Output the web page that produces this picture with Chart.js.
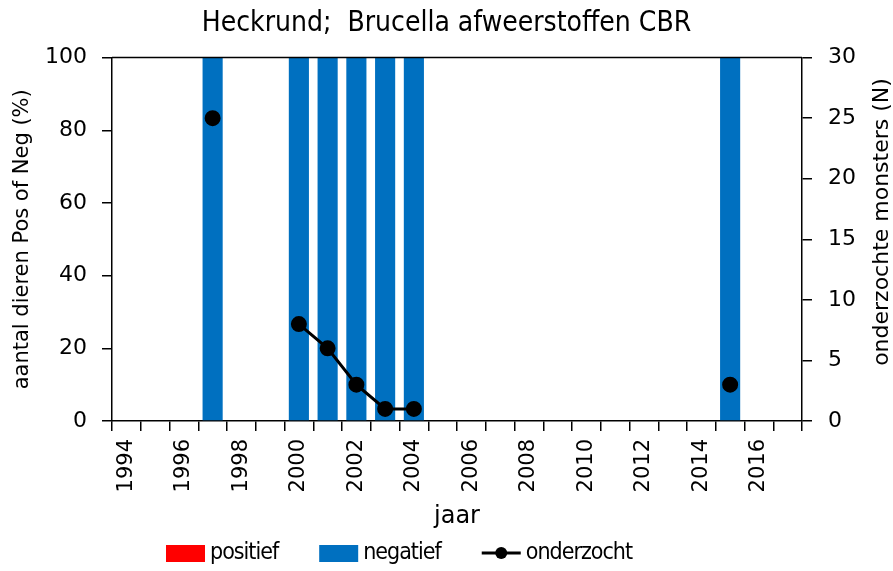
<!DOCTYPE html>
<html>
<head>
<meta charset="utf-8">
<title>Heckrund; Brucella afweerstoffen CBR</title>
<script src="https://cdn.jsdelivr.net/npm/chart.js@4.4.1/dist/chart.umd.min.js"></script>
<style>
  html, body { margin: 0; padding: 0; background: #fff; }
  canvas { display: block; }
</style>
</head>
<body>
<canvas id="chart" width="893" height="571"></canvas>
<script>
// --- Data ---
const YEARS = [1994, 1995, 1996, 1997, 1998, 1999, 2000, 2001, 2002, 2003, 2004, 2005,
  2006, 2007, 2008, 2009, 2010, 2011, 2012, 2013, 2014, 2015, 2016, 2017];
const TICK_LABELS = ['1994', '', '1996', '', '1998', '', '2000', '', '2002', '', '2004', '',
  '2006', '', '2008', '', '2010', '', '2012', '', '2014', '', '2016', ''];
const POSITIEF = [0, 0, 0, 0, 0, 0, 0, 0, 0, 0, 0, 0, 0, 0, 0, 0, 0, 0, 0, 0, 0, 0, 0, 0];
const NEGATIEF = [0, 0, 0, 100, 0, 0, 100, 100, 100, 100, 100, 0, 0, 0, 0, 0, 0, 0, 0, 0, 0, 100, 0, 0];
const ONDERZOCHT = [null, null, null, 25, null, null, 8, 6, 3, 1, 1, null,
  null, null, null, null, null, null, null, null, null, 3, null, null];
const PCT_TICKS = [0, 20, 40, 60, 80, 100];
const N_TICKS = [0, 5, 10, 15, 20, 25, 30];

const RED = '#ff0000';
const BLUE = '#0070c0';
const BLACK = '#000000';
const NARROW = "'DejaVu Sans Condensed', 'Liberation Sans Narrow', 'DejaVu Sans', sans-serif";
const WIDE = "'DejaVu Sans', sans-serif";

// --- Plugins ---
// top edge of the plot frame
const frameTop = {
  id: 'frameTop',
  afterDatasetsDraw(chart) {
    const { ctx, chartArea: a } = chart;
    ctx.save();
    ctx.strokeStyle = BLACK;
    ctx.lineWidth = 1.5;
    ctx.beginPath();
    ctx.moveTo(a.left, a.top);
    ctx.lineTo(a.right, a.top);
    ctx.stroke();
    ctx.restore();
  },
};

// right axis title, reading bottom-to-top
const rightTitle = {
  id: 'rightTitle',
  afterDraw(chart, args, opts) {
    const { ctx } = chart;
    ctx.save();
    ctx.translate(opts.x, opts.y);
    ctx.rotate(-Math.PI / 2);
    ctx.font = `${opts.size}px ${WIDE}`;
    ctx.fillStyle = BLACK;
    ctx.textAlign = 'center';
    ctx.textBaseline = 'middle';
    ctx.fillText(opts.text, 0, 0);
    ctx.restore();
  },
};

// legend row under the axis
const bottomLegend = {
  id: 'bottomLegend',
  afterDraw(chart, args, opts) {
    const { ctx } = chart;
    ctx.save();
    ctx.font = `${opts.size}px ${NARROW}`;
    ctx.letterSpacing = opts.tracking;
    ctx.textBaseline = 'middle';
    const items = chart.data.datasets.map((ds) => ({
      label: ds.label,
      type: ds.type || 'bar',
      color: ds.backgroundColor,
      w: ctx.measureText(ds.label).width,
    }));
    const total = items.reduce((s, it) => s + opts.symbol + opts.gap + it.w, 0) + opts.spacing * (items.length - 1);
    let x = opts.cx - total / 2;
    const y = opts.y;
    items.forEach((it) => {
      if (it.type === 'line') {
        ctx.strokeStyle = BLACK;
        ctx.lineWidth = 3;
        ctx.beginPath();
        ctx.moveTo(x, y);
        ctx.lineTo(x + opts.symbol, y);
        ctx.stroke();
        ctx.beginPath();
        ctx.arc(x + opts.symbol / 2, y, 6, 0, Math.PI * 2);
        ctx.fillStyle = BLACK;
        ctx.fill();
      } else {
        ctx.fillStyle = it.color;
        ctx.fillRect(x, y - 8, opts.symbol, 17);
      }
      x += opts.symbol + opts.gap;
      ctx.fillStyle = BLACK;
      ctx.fillText(it.label, x, y);
      x += it.w + opts.spacing;
    });
    ctx.restore();
  },
};

// --- Chart ---
const axisGrid = {
  drawOnChartArea: false,
  drawTicks: true,
  tickLength: 10,
  color: BLACK,
  lineWidth: 1.5,
};

new Chart(document.getElementById('chart').getContext('2d'), {
  data: {
    labels: YEARS,
    datasets: [
      {
        type: 'bar',
        label: 'positief',
        data: POSITIEF,
        backgroundColor: RED,
        yAxisID: 'y',
        stack: 'pct',
        categoryPercentage: 1,
        barPercentage: 0.7,
        order: 2,
      },
      {
        type: 'bar',
        label: 'negatief',
        data: NEGATIEF,
        backgroundColor: BLUE,
        yAxisID: 'y',
        stack: 'pct',
        categoryPercentage: 1,
        barPercentage: 0.7,
        order: 1,
      },
      {
        type: 'line',
        label: 'onderzocht',
        data: ONDERZOCHT,
        yAxisID: 'y1',
        borderColor: BLACK,
        backgroundColor: BLACK,
        borderWidth: 3,
        pointRadius: 6.5,
        pointHoverRadius: 6.5,
        spanGaps: false,
        order: 0,
      },
    ],
  },
  options: {
    responsive: false,
    animation: false,
    devicePixelRatio: 1,
    layout: { padding: { left: 0, right: 0, top: 0, bottom: 40 } },
    plugins: {
      legend: { display: false },
      tooltip: { enabled: false },
      title: {
        display: true,
        text: 'Heckrund;  Brucella afweerstoffen CBR',
        color: BLACK,
        font: { family: NARROW, size: 28, weight: 'normal' },
        padding: { top: 7, bottom: 17 },
      },
      rightTitle: { text: 'onderzochte monsters (N)', size: 22, x: 882, y: 222 },
      bottomLegend: { size: 23, tracking: '-1px', cx: 399, y: 553, symbol: 39, gap: 5, spacing: 41 },
    },
    scales: {
      x: {
        type: 'category',
        stacked: true,
        offset: true,
        grid: { ...axisGrid, offset: true },
        border: { color: BLACK, width: 1.5 },
        ticks: {
          autoSkip: false,
          minRotation: 90,
          maxRotation: 90,
          padding: 8,
          color: BLACK,
          font: { family: WIDE, size: 21 },
          callback: (v, i) => TICK_LABELS[i],
        },
        title: {
          display: true,
          text: 'jaar',
          color: BLACK,
          font: { family: WIDE, size: 24 },
          padding: { top: 0, bottom: 0 },
        },
        afterFit: (s) => { s.height = 110; },
      },
      y: {
        position: 'left',
        stacked: true,
        min: 0,
        max: 100,
        afterBuildTicks: (s) => { s.ticks = PCT_TICKS.map((v) => ({ value: v })); },
        grid: axisGrid,
        border: { color: BLACK, width: 1.5 },
        ticks: { color: BLACK, padding: 15, font: { family: WIDE, size: 22 } },
        title: {
          display: true,
          text: 'aantal dieren Pos of Neg (%)',
          color: BLACK,
          font: { family: WIDE, size: 21 },
          padding: { top: 10, bottom: 0 },
        },
        afterFit: (s) => { s.width = 112; },
      },
      y1: {
        position: 'right',
        min: 0,
        max: 30,
        afterBuildTicks: (s) => { s.ticks = N_TICKS.map((v) => ({ value: v })); },
        grid: axisGrid,
        border: { color: BLACK, width: 1.5 },
        ticks: { color: BLACK, padding: 16, font: { family: WIDE, size: 22 } },
        afterFit: (s) => { s.width = 91; },
      },
    },
  },
  plugins: [frameTop, rightTitle, bottomLegend],
});
</script>
</body>
</html>
